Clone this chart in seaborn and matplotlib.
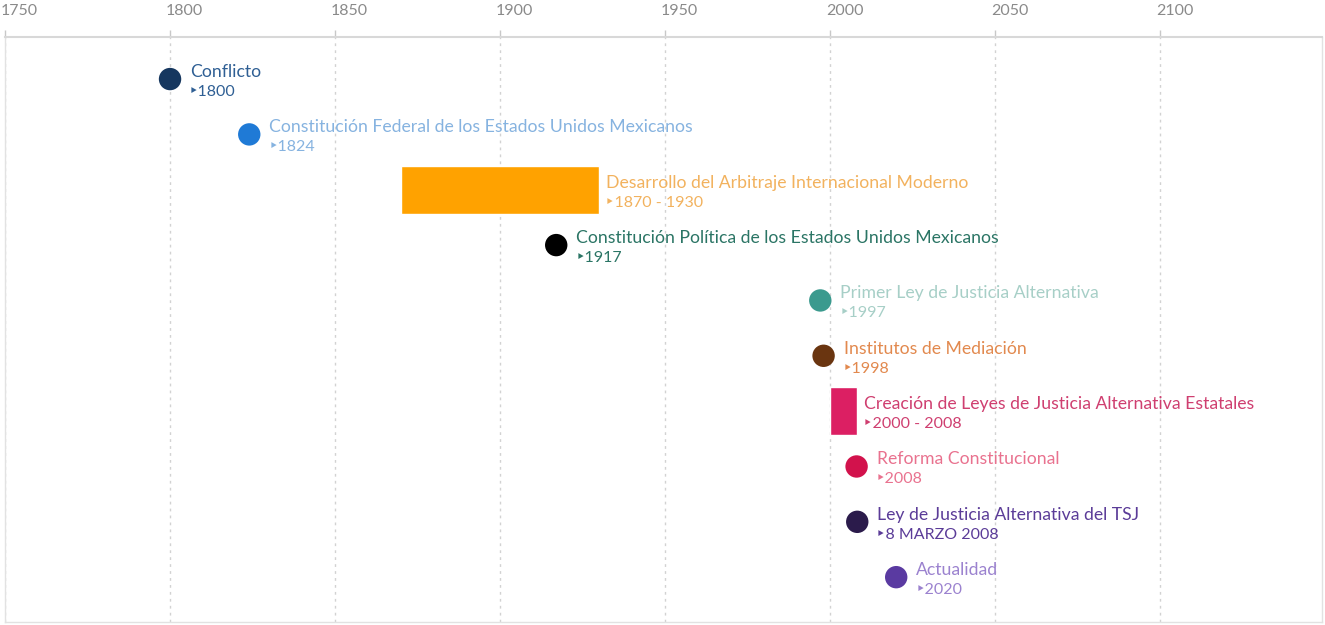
import pandas as pd
import seaborn as sns
import numpy as np
import matplotlib.pyplot as plt
import matplotlib.transforms as mtransforms

# timeline events (top to bottom)
titles = ['Conflicto',
          'Constitución Federal de los Estados Unidos Mexicanos',
          'Desarrollo del Arbitraje Internacional Moderno',
          'Constitución Política de los Estados Unidos Mexicanos',
          'Primer Ley de Justicia Alternativa',
          'Institutos de Mediación',
          'Creación de Leyes de Justicia Alternativa Estatales',
          'Reforma Constitucional',
          'Ley de Justicia Alternativa del TSJ',
          'Actualidad']
subtitles = ['1800', '1824', '1870 - 1930', '1917', '1997', '1998',
             '2000 - 2008', '2008', '8 MARZO 2008', '2020']
start = [1800, 1824, 1870, 1917, 1997, 1998, 2000, 2008, 2008.2, 2020]
end = [None, None, 1930, None, None, None, 2008, None, None, None]

mark_colors = ['#16375f', '#1f7ad6', '#ffa200', '#000000', '#3b9a8e',
               '#6a3510', '#dc1f63', '#d2124c', '#2b1b4b', '#5a3aa1']
text_colors = ['#2f5f94', '#86b3e0', '#f2b25e', '#2b7565', '#a7cfc7',
               '#e2894e', '#cf3f70', '#e9728f', '#5b3c98', '#9b82cf']

sns.set_theme(style='white')
plt.rcParams['font.family'] = ['Lato', 'DejaVu Sans']

df = pd.DataFrame({'title': titles, 'sub': subtitles, 'start': start,
                   'end': end, 'row': np.arange(len(titles))})

fig = plt.figure(figsize=(13.25, 6.25), dpi=100)
ax = fig.add_axes([5/1325, 1 - 622/625, 1317/1325, 585/625])

points = df[df['end'].isna()]
ranges = df[df['end'].notna()]

sns.scatterplot(data=points, x='start', y='row', hue='title',
                palette=[mark_colors[i] for i in points['row']],
                s=260, linewidth=0, legend=False, ax=ax, zorder=3)
ax.barh(ranges['row'], ranges['end'] - ranges['start'], left=ranges['start'],
        height=0.86, color=[mark_colors[i] for i in ranges['row']],
        zorder=3)

for _, r in df.iterrows():
    if pd.isna(r['end']):
        xpos, off = r['start'], 20
    else:
        xpos, off = r['end'], 7
    c = text_colors[r['row']]
    ax.annotate(r['title'], (xpos, r['row']), xytext=(off, 7),
                textcoords='offset pixels', ha='left', va='center',
                fontsize=12.7, color=c)
    ax.annotate('\u2023' + r['sub'], (xpos, r['row']), xytext=(off - 1, -13),
                textcoords='offset pixels', ha='left', va='center',
                fontsize=11.5, color=c)

ax.set_xlim(1750.3, 2149)
ax.set_ylim(9.81, -0.76)
ax.set_xticks(np.arange(1750, 2101, 50))
ax.set_yticks([])
ax.xaxis.tick_top()
ax.tick_params(axis='x', colors='#c8c8c8', labelcolor='#8a8a8a',
               labelsize=11.5, length=5, width=1, direction='out', pad=9)
# tick labels sit slightly to the right of their tick
shift = mtransforms.ScaledTranslation(-4/100, 0, fig.dpi_scale_trans)
for lab in ax.get_xticklabels():
    lab.set_horizontalalignment('left')
    lab.set_transform(lab.get_transform() + shift)
ax.grid(axis='x', color='#d2d2d2', linestyle=(0, (2, 3)), linewidth=1)
ax.set_xlabel('')
ax.set_ylabel('')
for side, sp in ax.spines.items():
    sp.set_color('#e2e2e2')
    sp.set_linewidth(1)
ax.spines['top'].set_color('#d8d8d8')
ax.spines['top'].set_linewidth(1.5)

plt.savefig('out.png', dpi=100)
